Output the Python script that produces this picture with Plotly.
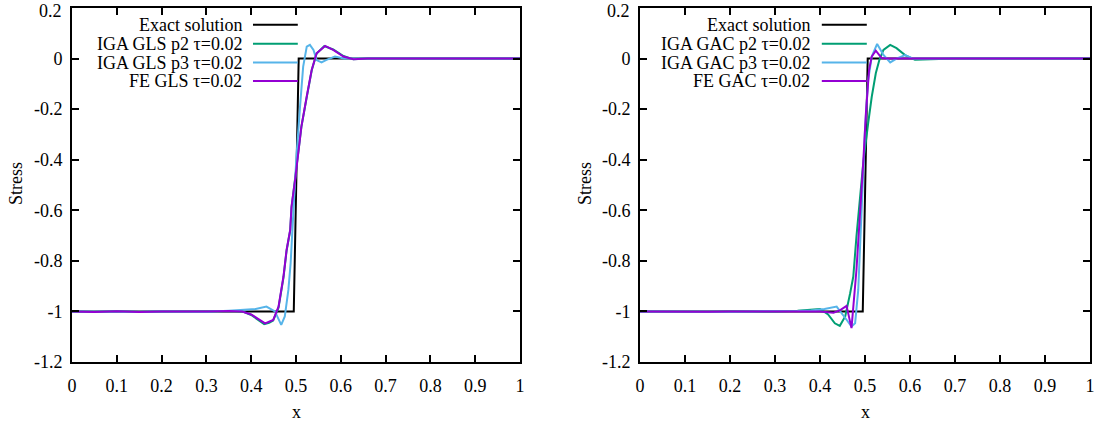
import plotly.graph_objects as go

# ---------------- data ----------------
exact_x = [0.0, 0.495, 0.506, 1.0]
exact_y = [-1.0, -1.0, 0.0, 0.0]

# Left panel (GLS)
gls_p2_x = [0.0, 0.05, 0.1, 0.15, 0.2, 0.25, 0.3, 0.35, 0.38, 0.40, 0.415, 0.429, 0.44, 0.449, 0.461,
            0.472, 0.479, 0.487, 0.490, 0.498, 0.505, 0.512, 0.524, 0.535, 0.546, 0.563, 0.583, 0.606,
            0.628, 0.66, 0.7, 0.8, 0.9, 1.0]
gls_p2_y = [-1.0, -1.002, -0.999, -1.002, -1.0, -1.001, -1.0, -0.998, -1.0, -1.014, -1.033, -1.05, -1.045,
            -1.036, -0.985, -0.866, -0.76, -0.68, -0.59, -0.482, -0.376, -0.27, -0.152, -0.047, 0.02,
            0.049, 0.036, 0.01, -0.003, 0.0, 0.0, 0.0, 0.0, 0.0]

gls_p3_x = [0.0, 0.05, 0.1, 0.15, 0.2, 0.25, 0.3, 0.35, 0.38, 0.41, 0.434, 0.453, 0.467, 0.475, 0.483,
            0.488, 0.494, 0.501, 0.509, 0.516, 0.524, 0.531, 0.539, 0.546, 0.557, 0.568, 0.587, 0.607,
            0.65, 0.7, 0.8, 0.9, 1.0]
gls_p3_y = [-1.0, -1.001, -1.0, -1.001, -1.0, -1.0, -1.001, -0.997, -0.995, -0.99, -0.981, -1.0, -1.053,
            -1.02, -0.915, -0.81, -0.612, -0.388, -0.19, -0.032, 0.047, 0.054, 0.034, -0.006, -0.015,
            -0.005, 0.008, 0.0, 0.0, 0.0, 0.0, 0.0, 0.0]

fe_gls_x = [0.0, 0.05, 0.1, 0.15, 0.2, 0.25, 0.3, 0.35, 0.38, 0.40, 0.415, 0.431, 0.449, 0.461, 0.472,
            0.479, 0.487, 0.490, 0.498, 0.505, 0.512, 0.524, 0.535, 0.546, 0.565, 0.583, 0.606, 0.628,
            0.66, 0.7, 0.8, 0.9, 1.0]
fe_gls_y = [-1.0, -1.002, -0.999, -1.002, -1.0, -1.001, -1.0, -0.998, -1.0, -1.012, -1.03, -1.047, -1.034,
            -0.981, -0.862, -0.757, -0.678, -0.585, -0.48, -0.374, -0.269, -0.15, -0.045, 0.021, 0.05,
            0.034, 0.008, -0.003, 0.0, 0.0, 0.0, 0.0, 0.0]

# Right panel (GAC)
gac_p2_x = [0.0, 0.05, 0.1, 0.15, 0.2, 0.25, 0.3, 0.35, 0.38, 0.40, 0.418, 0.433, 0.444, 0.456, 0.467,
            0.474, 0.481, 0.489, 0.496, 0.507, 0.515, 0.524, 0.532, 0.541, 0.556, 0.570, 0.589, 0.611,
            0.637, 0.67, 0.7, 0.8, 0.9, 1.0]
gac_p2_y = [-1.0, -1.001, -1.0, -1.001, -1.0, -1.001, -1.0, -0.997, -0.992, -0.99, -1.012, -1.047, -1.057,
            -1.02, -0.928, -0.862, -0.704, -0.546, -0.414, -0.256, -0.151, -0.058, -0.005, 0.034, 0.054,
            0.041, 0.014, -0.005, -0.003, 0.0, 0.0, 0.0, 0.0, 0.0]

gac_p3_x = [0.0, 0.05, 0.1, 0.15, 0.2, 0.25, 0.3, 0.35, 0.38, 0.41, 0.437, 0.448, 0.459, 0.470, 0.478,
            0.485, 0.493, 0.500, 0.507, 0.515, 0.527, 0.541, 0.556, 0.570, 0.589, 0.607, 0.65, 0.7, 0.8,
            0.9, 1.0]
gac_p3_y = [-1.0, -1.001, -1.0, -1.0, -1.001, -1.0, -1.0, -0.998, -0.996, -0.99, -0.981, -1.005, -1.033,
            -1.06, -1.047, -0.915, -0.546, -0.282, -0.085, 0.008, 0.058, 0.014, -0.015, 0.0, 0.014, 0.0,
            0.0, 0.0, 0.0, 0.0, 0.0]

fe_gac_x = [0.0, 0.05, 0.1, 0.15, 0.2, 0.25, 0.3, 0.35, 0.40, 0.43, 0.445, 0.459, 0.470, 0.481, 0.489,
            0.496, 0.502, 0.509, 0.515, 0.524, 0.537, 0.55, 0.6, 0.7, 0.8, 0.9, 1.0]
fe_gac_y = [-1.0, -1.001, -1.0, -1.001, -1.0, -1.0, -1.0, -0.999, -1.0, -1.005, -0.995, -0.978, -1.066,
            -0.836, -0.625, -0.414, -0.216, -0.045, 0.008, 0.031, 0.002, 0.0, 0.0, 0.0, 0.0, 0.0, 0.0]

left_names = ["Exact solution", "IGA GLS p2 \u03c4=0.02", "IGA GLS p3 \u03c4=0.02", "FE GLS \u03c4=0.02"]
right_names = ["Exact solution", "IGA GAC p2 \u03c4=0.02", "IGA GAC p3 \u03c4=0.02", "FE GAC \u03c4=0.02"]
colors = ["#000000", "#009e73", "#56b4e9", "#9400d3"]

x_ticks = [0, 0.1, 0.2, 0.3, 0.4, 0.5, 0.6, 0.7, 0.8, 0.9, 1]
x_ticktext = ["0", "0.1", "0.2", "0.3", "0.4", "0.5", "0.6", "0.7", "0.8", "0.9", "1"]
y_ticks = [-1.2, -1.0, -0.8, -0.6, -0.4, -0.2, 0.0, 0.2]
y_ticktext = ["-1.2", "-1", "-0.8", "-0.6", "-0.4", "-0.2", "0", ""]
y_top_label = "0.2"   # drawn separately so it is not clipped at the top edge

FONT = "Liberation Serif, Times New Roman, serif"
W, H = 1097, 423

fig = go.Figure()

left_series = [(exact_x, exact_y), (gls_p2_x, gls_p2_y), (gls_p3_x, gls_p3_y), (fe_gls_x, fe_gls_y)]
right_series = [(exact_x, exact_y), (gac_p2_x, gac_p2_y), (gac_p3_x, gac_p3_y), (fe_gac_x, fe_gac_y)]

for (xs, ys), name, c in zip(left_series, left_names, colors):
    fig.add_trace(go.Scatter(x=xs, y=ys, mode="lines", name=name, line=dict(color=c, width=2),
                             xaxis="x", yaxis="y", showlegend=False))
for (xs, ys), name, c in zip(right_series, right_names, colors):
    fig.add_trace(go.Scatter(x=xs, y=ys, mode="lines", name=name, line=dict(color=c, width=2),
                             xaxis="x2", yaxis="y2", showlegend=False))

# pixel-based domains
lx0, lx1 = 72 / W, 520 / W
rx0, rx1 = 640 / W, 1090 / W
y0, y1 = (H - 362) / H, (H - 8) / H

axis_common = dict(showline=True, linewidth=2, linecolor="black", mirror="allticks",
                   ticks="inside", ticklen=7, tickwidth=2, tickcolor="black",
                   showgrid=False, zeroline=False, automargin=False, ticklabeloverflow="allow",
                   tickfont=dict(family=FONT, size=18, color="black"))

YR = [-1.2000001, 0.2000001]

fig.update_layout(
    template="none",
    width=W, height=H, autosize=False,
    margin=dict(l=0, r=0, t=0, b=0, pad=0),
    paper_bgcolor="white", plot_bgcolor="white",
    font=dict(family=FONT, size=18, color="black"),
    xaxis=dict(domain=[lx0, lx1], range=[0, 1], anchor="y", tickvals=x_ticks, ticktext=x_ticktext,
               ticklabelstandoff=6, **axis_common),
    yaxis=dict(domain=[y0, y1], range=YR, anchor="x", tickvals=y_ticks, ticktext=y_ticktext,
               ticklabelstandoff=4, **axis_common),
    xaxis2=dict(domain=[rx0, rx1], range=[0, 1], anchor="y2", tickvals=x_ticks, ticktext=x_ticktext,
                ticklabelstandoff=6, **axis_common),
    yaxis2=dict(domain=[y0, y1], range=YR, anchor="x2", tickvals=y_ticks, ticktext=y_ticktext,
                ticklabelstandoff=4, **axis_common),
)

annotations = []
shapes = []
# axis titles
for xc, yc, txt, rot in [((72 + 520) / 2 / W, 1 - 411.5 / H, "x", 0),
                         ((640 + 1090) / 2 / W, 1 - 411.5 / H, "x", 0),
                         (16 / W, 1 - 184 / H, "Stress", -90),
                         (585 / W, 1 - 184 / H, "Stress", -90)]:
    annotations.append(dict(x=xc, y=yc, xref="paper", yref="paper", text=txt, showarrow=False,
                            textangle=rot, xanchor="center", yanchor="middle",
                            font=dict(family=FONT, size=18, color="black")))

# top y tick label of each panel
for xl in [lx0, rx0]:
    annotations.append(dict(x=xl - 9 / W, y=1.0, xref="paper", yref="paper", text=y_top_label,
                            showarrow=False, xanchor="right", yanchor="top",
                            borderpad=0, font=dict(family=FONT, size=18, color="black")))

# legends (text right-aligned, line sample to the right)
row_y = [0.953, 0.899, 0.846, 0.794]
for xr, yr, names in [("x domain", "y domain", left_names), ("x2 domain", "y2 domain", right_names)]:
    for name, c, ry in zip(names, colors, row_y):
        annotations.append(dict(x=0.383, y=ry, xref=xr, yref=yr, text=name, showarrow=False,
                                xanchor="right", yanchor="middle",
                                font=dict(family=FONT, size=18, color="black")))
        shapes.append(dict(type="line", xref=xr, yref=yr, x0=0.404, x1=0.504, y0=ry, y1=ry,
                           line=dict(color=c, width=2)))

fig.update_layout(annotations=annotations, shapes=shapes)
fig.write_html("out.html")
